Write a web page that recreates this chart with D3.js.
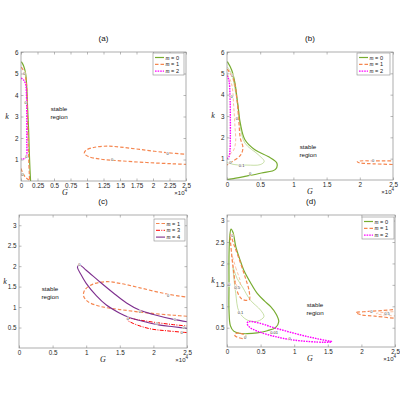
<!DOCTYPE html>
<html>
<head>
<meta charset="utf-8">
<script src="https://cdn.jsdelivr.net/npm/d3@7"></script>
<style>
  body { margin: 0; background: #fff; }
  svg { font-family: "Liberation Sans", Arial, sans-serif; }
</style>
</head>
<body>
<svg width="400" height="400"></svg>
<script>
// curves are [G (x10^4), k] pairs
const a_m0 = [[0.005,5.55],[0.04,5.35],[0.07,5.0],[0.09,4.2],[0.10,3.4],[0.115,2.4],[0.125,1.4],[0.135,0.6],[0.145,0]];
const a_m1 = [[0.005,5.3],[0.05,5.05],[0.08,4.6],[0.095,3.4],[0.105,2.2],[0.115,1.2],[0.125,0.4],[0.13,0]];
const a_m1b = [[0,0.58],[0.03,0.35],[0.07,0.17],[0.12,0.05]];
const m1_loop = [[2.55,1.23],[2.2,1.32],[1.8,1.47],[1.5,1.58],[1.3,1.62],[1.1,1.56],[0.98,1.42],[0.96,1.28],[1.02,1.14],[1.2,1.02],[1.5,0.94],[1.9,0.86],[2.3,0.8],[2.55,0.77]];
const a_m2 = [[0,4.78],[0.04,4.7],[0.07,4.5],[0.085,3.8],[0.088,2.8],[0.088,1.8],[0.085,1.2],[0.06,1.05],[0,1.03]];

const b_m0 = [[0.005,5.55],[0.07,5.16],[0.12,4.54],[0.16,3.6],[0.2,2.67],[0.27,1.89],[0.42,1.42],[0.62,1.1],[0.75,0.8],[0.73,0.5],[0.52,0.33],[0.27,0.17],[0.07,0.05],[0,0.02]];
const b_m0b = [[0.005,5.3],[0.07,4.95],[0.13,4.1],[0.17,3.44],[0.2,2.5],[0.27,1.73],[0.47,1.19],[0.56,0.87],[0.5,0.72],[0.3,0.7],[0.12,0.72],[0.02,0.8],[0,0.85]];
const b_m1 = [[0.005,5.2],[0.1,4.7],[0.15,3.76],[0.18,2.67],[0.2,1.97],[0.24,1.5],[0.2,1.15],[0.08,0.87],[0,0.7]];
const b_m1b = [[0.005,4.95],[0.07,4.5],[0.1,3.5],[0.12,2.5],[0.13,1.8],[0.1,1.4],[0.04,1.2],[0,1.12]];
const b_m1c = [[2.55,0.9],[2.2,0.9],[2.0,0.89],[1.96,0.85],[2.0,0.8],[2.2,0.76],[2.55,0.72]];
const b_m2 = [[0,4.9],[0.03,4.65],[0.045,4.0],[0.05,3.0],[0.05,2.0],[0.045,1.4],[0.03,1.1],[0,1.0]];

const c_m3 = [[2.55,0.53],[2.3,0.57],[2.05,0.62],[1.8,0.68],[1.63,0.72],[1.61,0.69],[1.7,0.6],[1.95,0.47],[2.2,0.42],[2.55,0.37]];
const c_m4 = [[2.55,0.63],[2.3,0.7],[2.0,0.82],[1.8,0.92],[1.6,1.1],[1.4,1.35],[1.2,1.62],[1.0,1.9],[0.9,2.03],[0.87,1.98],[0.92,1.8],[1.0,1.58],[1.15,1.28],[1.3,1.05],[1.5,0.85],[1.65,0.74],[1.9,0.63],[2.1,0.56],[2.3,0.52],[2.55,0.47]];

const d_m0 = [[0.03,1.5],[0.03,2.2],[0.04,2.6],[0.06,2.8],[0.09,2.72],[0.13,2.4],[0.19,2.1],[0.25,1.84],[0.35,1.55],[0.45,1.3],[0.56,1.12],[0.65,0.99],[0.73,0.82],[0.77,0.64],[0.72,0.5],[0.6,0.43],[0.45,0.38],[0.3,0.36],[0.18,0.37],[0.1,0.42],[0.05,0.55],[0.03,0.9]];
const d_m0b = [[0.09,1.9],[0.15,1.65],[0.23,1.45],[0.35,1.14],[0.5,0.91],[0.55,0.76],[0.45,0.65],[0.3,0.68],[0.18,0.87],[0.13,1.3],[0.1,1.7]];
const d_m1 = [[0.05,2.68],[0.1,2.45],[0.17,2.15],[0.27,1.68],[0.33,1.35],[0.33,1.15],[0.22,1.17],[0.14,1.4],[0.1,1.8],[0.07,2.2]];
const d_m1b = [[0.07,2.2],[0.13,1.9],[0.2,1.55],[0.18,1.4],[0.12,1.6],[0.09,1.95]];
const d_m1c = [[0.12,0.36],[0.2,0.37],[0.28,0.31],[0.26,0.25],[0.17,0.27],[0.12,0.31]];
const d_m1d = [[2.55,0.93],[2.3,0.9],[2.1,0.88],[1.92,0.85],[2.0,0.8],[2.2,0.77],[2.55,0.71]];
const d_m1e = [[2.55,0.88],[2.35,0.86],[2.22,0.83],[2.3,0.8],[2.55,0.77]];
const d_m2 = [[0.32,0.64],[0.45,0.62],[0.7,0.5],[1.1,0.33],[1.35,0.24],[1.56,0.17],[1.45,0.16],[1.0,0.21],[0.7,0.3],[0.45,0.42],[0.33,0.52],[0.3,0.6]];

const ticksQuarter = [0,0.25,0.5,0.75,1,1.25,1.5,1.75,2,2.25,2.5];
const ticksHalf = [0,0.5,1,1.5,2,2.5];
const kTicks6 = [1,2,3,4,5,6];
const kTicks3 = [0.5,1,1.5,2,2.5,3];

// contour level labels [G, k, text]
const a_labels = [[0.05,5.0,"0"],[0.07,3.65,"0"],[0.08,1.15,"0"],[0.02,0.32,"0"],[2.22,1.29,"0"],[1.38,0.99,"0"]];
const b_labels = [[0.08,4.9,"0"],[0.15,2.9,"0"],[0.07,3.9,"0"],[0.05,0.8,"0"],[0.22,0.7,"0.1"],[0.35,0.3,"0"],[2.2,0.9,"0"]];
const c_labels = [[2.22,1.29,"0"],[1.8,0.9,"0"],[0.9,2.03,"0"],[1.62,0.71,"0"],[2.32,0.7,"0"],[2.45,0.5,"0"],[2.42,0.39,"0"],[2.05,0.6,"0"]];
const d_labels = [[0.08,2.65,"0"],[0.03,1.5,"0"],[0.15,1.45,"0.5"],[0.2,0.85,"0.1"],[0.27,0.28,"0"],[0.93,0.25,"0"],[0.7,0.4,"0.01"],[2.15,0.88,"0"],[2.38,0.83,"0.5"]];

const cGreen = "#77AC30", cGreenLt = "#b9d68f", cOrange = "#F5864F", cOrangeLt = "#f9b995",
      cMagenta = "#FF00FF", cRed = "#FF0000", cPurple = "#7E2F8E";

const svg = d3.select("svg");

const sty = {
  m0: { stroke: cGreen, w: 1.2, dash: null },
  m0b: { stroke: cGreenLt, w: 0.8, dash: null },
  m1: { stroke: cOrange, w: 1.2, dash: "3.5,2" },
  m1b: { stroke: cOrangeLt, w: 0.9, dash: "3,2" },
  m2: { stroke: cMagenta, w: 1.4, dash: "1.6,1" },
  m3: { stroke: cRed, w: 1.0, dash: "4,1.3,1,1.3" },
  m4: { stroke: cPurple, w: 1.1, dash: null }
};

const panels = [
  { title: "(a)", x0: 21, x1: 186, y0: 52, y1: 181, yd: [0, 6], xt: ticksQuarter, yt: kTicks6, gx: 65,
    legend: { x: 153, y: 53, w: 31, items: [["0","m0"],["1","m1"],["2","m2"]] },
    stable: [59, 111],
    curves: [[a_m0,"m0"],[a_m1,"m1"],[a_m1b,"m1"],[m1_loop,"m1"],[a_m2,"m2"]], labels: a_labels },
  { title: "(b)", x0: 227, x1: 393, y0: 52, y1: 180, yd: [0, 6], xt: ticksHalf, yt: kTicks6, gx: 310,
    legend: { x: 357, y: 53, w: 33, items: [["0","m0"],["1","m1"],["2","m2"]] },
    stable: [308, 149],
    curves: [[b_m0b,"m0b"],[b_m1b,"m1b"],[b_m0,"m0"],[b_m1,"m1"],[b_m1c,"m1"],[b_m2,"m2"]], labels: b_labels },
  { title: "(c)", x0: 19, x1: 187, y0: 215, y1: 348, yd: [0, 3.25], xt: ticksHalf, yt: kTicks3, gx: 103,
    legend: { x: 154, y: 219, w: 31, items: [["1","m1"],["3","m3"],["4","m4"]] },
    stable: [50, 291],
    curves: [[m1_loop,"m1"],[c_m3,"m3"],[c_m4,"m4"]], labels: c_labels },
  { title: "(d)", x0: 227, x1: 395, y0: 215, y1: 347, yd: [0.05, 3.13], xt: ticksHalf, yt: kTicks3, gx: 310,
    legend: { x: 362, y: 217, w: 32, items: [["0","m0"],["1","m1"],["2","m2"]] },
    stable: [315, 307],
    curves: [[d_m0b,"m0b",true],[d_m1b,"m1b",true],[d_m0,"m0",true],[d_m1,"m1",true],[d_m1c,"m1",true],
             [d_m1e,"m1b"],[d_m1d,"m1"],[d_m2,"m2",true]], labels: d_labels }
];

panels.forEach((p, i) => {
  const x = d3.scaleLinear().domain([0, 2.5]).range([p.x0, p.x1]);
  const y = d3.scaleLinear().domain(p.yd).range([p.y1, p.y0]);
  const g = svg.append("g");

  g.append("clipPath").attr("id", "clip" + i)
    .append("rect").attr("x", p.x0).attr("y", p.y0).attr("width", p.x1 - p.x0).attr("height", p.y1 - p.y0);

  const plot = g.append("g").attr("clip-path", `url(#clip${i})`);
  p.curves.forEach(([pts, s, closed]) => {
    const line = d3.line().x((d) => x(d[0])).y((d) => y(d[1]))
      .curve(closed ? d3.curveCatmullRomClosed : d3.curveCatmullRom);
    plot.append("path").datum(pts).attr("d", line)
      .attr("fill", "none").attr("stroke", sty[s].stroke).attr("stroke-width", sty[s].w)
      .attr("stroke-dasharray", sty[s].dash);
  });

  plot.selectAll(".lab").data(p.labels).enter().append("text")
    .attr("x", (d) => x(d[0])).attr("y", (d) => y(d[1]) + 1.5)
    .attr("text-anchor", "middle").attr("font-size", 4).attr("fill", "#333")
    .attr("stroke", "#fff").attr("stroke-width", 1).attr("paint-order", "stroke")
    .text((d) => d[2]);

  // axes, ticks inside, box on
  const fmt = d3.format("~g");
  const styleAxis = (sel) => {
    sel.select(".domain").remove();
    sel.selectAll(".tick line").attr("stroke", "#8a8a8a").attr("stroke-width", 0.6);
    sel.selectAll(".tick text").attr("fill", "#262626").attr("font-size", 6.3);
  };
  g.append("g").attr("transform", `translate(0,${p.y1})`)
    .call(d3.axisBottom(x).tickValues(p.xt).tickFormat(fmt).tickSize(-2.5).tickPadding(2.5)).call(styleAxis);
  g.append("g").attr("transform", `translate(0,${p.y0})`)
    .call(d3.axisTop(x).tickValues(p.xt).tickFormat("").tickSize(-2.5)).call(styleAxis);
  g.append("g").attr("transform", `translate(${p.x0},0)`)
    .call(d3.axisLeft(y).tickValues(p.yt).tickFormat(fmt).tickSize(-2.5).tickPadding(2.5)).call(styleAxis);
  g.append("g").attr("transform", `translate(${p.x1},0)`)
    .call(d3.axisRight(y).tickValues(p.yt).tickFormat("").tickSize(-2.5)).call(styleAxis);
  g.selectAll("text").attr("font-family", "Liberation Sans, Arial, sans-serif");

  g.append("rect").attr("x", p.x0).attr("y", p.y0).attr("width", p.x1 - p.x0).attr("height", p.y1 - p.y0)
    .attr("fill", "none").attr("stroke", "#8a8a8a").attr("stroke-width", 0.7);

  g.append("text").attr("x", (p.x0 + p.x1) / 2).attr("y", p.y0 - 11)
    .attr("text-anchor", "middle").attr("font-size", 8).attr("fill", "#111").text(p.title);

  g.append("text").attr("x", p.gx).attr("y", p.y1 + 14)
    .attr("text-anchor", "middle").attr("font-size", 8).attr("font-style", "italic")
    .attr("font-family", "Liberation Serif, serif").attr("fill", "#222").text("G");

  const xe = g.append("text").attr("x", p.x1 + 1).attr("y", p.y1 + 14)
    .attr("text-anchor", "end").attr("font-size", 6).attr("fill", "#262626");
  xe.append("tspan").text("\u00d710");
  xe.append("tspan").attr("dy", -2.8).attr("font-size", 4.5).text("4");

  g.append("text").attr("x", p.x0 - 14).attr("y", (p.y0 + p.y1) / 2 + 2)
    .attr("text-anchor", "middle").attr("font-size", 8).attr("font-style", "italic")
    .attr("font-family", "Liberation Serif, serif").attr("fill", "#222").text("k");

  g.append("text").attr("x", p.stable[0]).attr("y", p.stable[1])
    .attr("text-anchor", "middle").attr("font-size", 6.2).attr("fill", "#111")
    .selectAll("tspan").data(["stable", "region"]).enter().append("tspan")
    .attr("x", p.stable[0]).attr("dy", (d, j) => (j ? 7.5 : 0)).text((d) => d);

  // legend
  const L = p.legend;
  const lg = g.append("g").attr("transform", `translate(${L.x},${L.y})`);
  lg.append("rect").attr("width", L.w).attr("height", 22).attr("fill", "#fff")
    .attr("stroke", "#8a8a8a").attr("stroke-width", 0.6);
  L.items.forEach(([m, s], j) => {
    const yy = 4.5 + j * 6.8;
    lg.append("line").attr("x1", 2).attr("x2", 11).attr("y1", yy).attr("y2", yy)
      .attr("stroke", sty[s].stroke).attr("stroke-width", sty[s].w).attr("stroke-dasharray", sty[s].dash);
    const t = lg.append("text").attr("x", 12.5).attr("y", yy + 2).attr("font-size", 5.6).attr("fill", "#222");
    t.append("tspan").attr("font-style", "italic").attr("font-family", "Liberation Serif, serif").text("m");
    t.append("tspan").text(" = " + m);
  });
});
</script>
</body>
</html>
